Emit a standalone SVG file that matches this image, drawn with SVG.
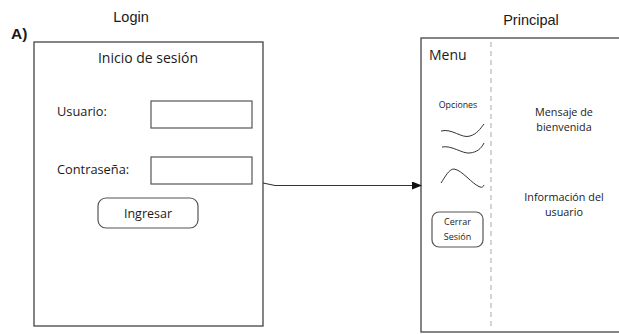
<svg xmlns="http://www.w3.org/2000/svg" width="619" height="334" viewBox="0 0 619 334">
<style>
.box{fill:#fff;stroke:#444;stroke-width:1.3}
.fld{fill:#fff;stroke:#555;stroke-width:1.2}
.t{font-family:"Open Sans","Noto Sans",sans-serif;fill:#1a1a1a}
.h{font-family:"Liberation Sans",Arial,sans-serif;fill:#1a1a1a}
.curve{fill:none;stroke:#333;stroke-width:1}
</style>
<defs>
<marker id="arr" markerWidth="10" markerHeight="8" refX="9" refY="4" orient="auto" markerUnits="userSpaceOnUse">
<path d="M0,0 L10,4 L0,8 Z" fill="#111"/>
</marker>
</defs>
<rect width="619" height="334" fill="#fff"/>
<text class="h" x="131" y="22" font-size="14.5" text-anchor="middle">Login</text>
<text class="h" x="11" y="39" font-size="15.5" font-weight="bold">A)</text>
<text class="h" x="531" y="25" font-size="14.5" text-anchor="middle">Principal</text>

<g id="login">
<rect class="box" x="34" y="42" width="229" height="284"/>
<text class="t" x="148" y="63" font-size="14" text-anchor="middle">Inicio de sesión</text>
<text class="t" x="57" y="116" font-size="12.8">Usuario:</text>
<rect class="fld" x="151" y="101" width="101" height="27"/>
<text class="t" x="57" y="174" font-size="12.8">Contraseña:</text>
<rect class="fld" x="151" y="157" width="101" height="27"/>
<g id="ingresar">
<rect class="fld" x="98" y="198" width="100" height="30" rx="8"/>
<text class="t" x="148" y="218" font-size="12.5" text-anchor="middle">Ingresar</text>
</g>
</g>

<g id="principal">
<rect class="box" x="421" y="38" width="205" height="294"/>
<line x1="491" y1="42" x2="491" y2="330" stroke="#aaa" stroke-width="1" stroke-dasharray="5,4"/>
<text class="t" x="429" y="60" font-size="14">Menu</text>
<text class="t" x="458" y="108" font-size="8.8" text-anchor="middle">Opciones</text>
<path class="curve" d="M441,131 C452,128 462,139 470,136 C477,134 480,129 484,124"/>
<path class="curve" d="M442,147 C452,145 462,154 470,153 C477,152 481,149 484,143"/>
<path class="curve" d="M441,183 C445,177 449,169 454,169 C462,170 472,184 480,187 C482,188 484,186 484,185"/>
<g id="cerrar">
<rect class="fld" x="432" y="212" width="51" height="35" rx="7"/>
<text class="t" x="457.5" y="225" font-size="9" text-anchor="middle">Cerrar</text>
<text class="t" x="457.5" y="240" font-size="9" text-anchor="middle">Sesión</text>
</g>
<text class="t" x="564" y="116" font-size="10.8" text-anchor="middle">Mensaje de</text>
<text class="t" x="564" y="131" font-size="10.8" text-anchor="middle">bienvenida</text>
<text class="t" x="564" y="201" font-size="10.8" text-anchor="middle">Información del</text>
<text class="t" x="564" y="216" font-size="10.8" text-anchor="middle">usuario</text>
</g>

<g id="connectors">
<polyline points="263,183 275,185.5 421,185.5" fill="none" stroke="#333" stroke-width="1.1" marker-end="url(#arr)"/>
</g>
</svg>
